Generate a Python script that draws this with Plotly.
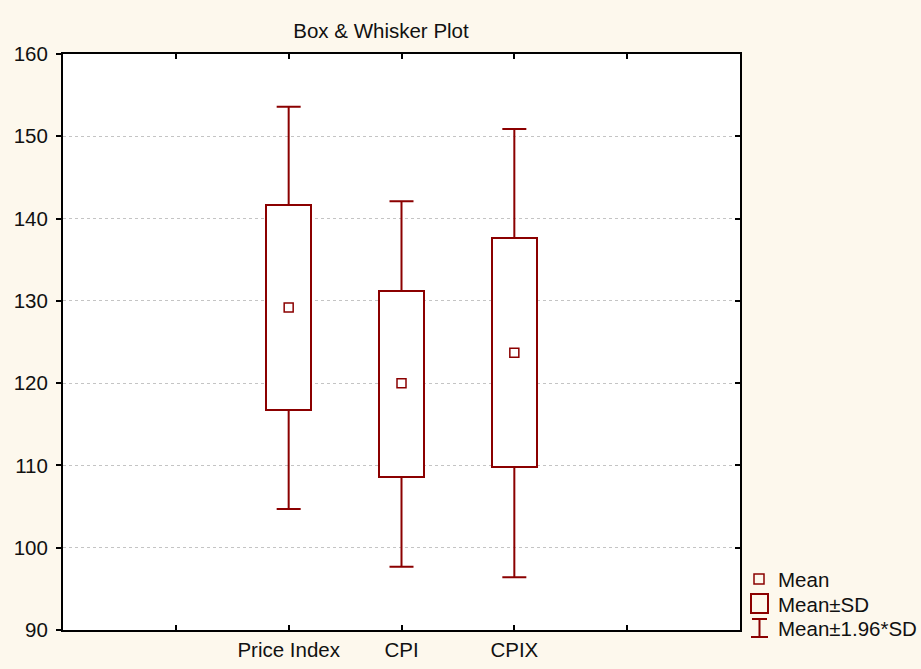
import plotly.graph_objects as go

# ---- data ----
categories = ["Price Index", "CPI", "CPIX"]
mean_vals = [129.2, 120.0, 123.7]
sd_low = [116.7, 108.6, 109.8]      # Mean - SD
sd_high = [141.6, 131.2, 137.6]     # Mean + SD
ci_low = [104.7, 97.7, 96.4]        # Mean - 1.96*SD
ci_high = [153.6, 142.1, 150.9]     # Mean + 1.96*SD
tick_labels = ["", "Price Index", "CPI", "CPIX", ""]
y_ticks = [90, 100, 110, 120, 130, 140, 150, 160]
legend_labels = ["Mean", "Mean\u00b1SD", "Mean\u00b11.96*SD"]

RED = "#8B0000"
BG = "#FDF8ED"
FONT = "Liberation Sans, Arial, sans-serif"
FS = 20.5

W, H = 921, 669
L, R, T, B = 63, 740, 54, 630

tick_pos = list(range(1, len(tick_labels) + 1))
xpos = [tick_labels.index(c) + 1 for c in categories]

fig = go.Figure()
# whiskers: Mean +/- 1.96*SD (bottom subplot layer)
fig.add_trace(go.Scatter(
    x=xpos, y=mean_vals, mode="markers", marker=dict(opacity=0),
    error_y=dict(type="data", symmetric=False,
                 array=[h - m for h, m in zip(ci_high, mean_vals)],
                 arrayminus=[m - l for m, l in zip(mean_vals, ci_low)],
                 color=RED, thickness=2, width=12),
    showlegend=False, hoverinfo="skip",
))
# boxes: Mean +/- SD (overlay subplot, above whiskers)
fig.add_trace(go.Bar(
    x=xpos, base=sd_low, y=[h - l for h, l in zip(sd_high, sd_low)],
    width=0.4, yaxis="y2",
    marker=dict(color="white", line=dict(color=RED, width=2)),
    showlegend=False, hoverinfo="skip",
))
# means
fig.add_trace(go.Scatter(
    x=xpos, y=mean_vals, mode="markers", yaxis="y2",
    marker=dict(symbol="square-open", size=9, color=RED, line=dict(width=1.5, color=RED)),
    showlegend=False,
))

def px(x):
    return (x - L) / (R - L)

def py(y):
    return (B - y) / (B - T)

shapes = []
annotations = []
# legend icons
shapes.append(dict(type="rect", xref="paper", yref="paper",
                   x0=px(754), x1=px(764), y0=py(584), y1=py(574),
                   line=dict(color=RED, width=1.5), fillcolor="rgba(0,0,0,0)"))
shapes.append(dict(type="rect", xref="paper", yref="paper",
                   x0=px(751), x1=px(768), y0=py(613), y1=py(594),
                   line=dict(color=RED, width=2), fillcolor="rgba(0,0,0,0)"))
shapes.append(dict(type="line", xref="paper", yref="paper",
                   x0=px(759.5), x1=px(759.5), y0=py(637), y1=py(619),
                   line=dict(color=RED, width=2)))
shapes.append(dict(type="line", xref="paper", yref="paper",
                   x0=px(752), x1=px(767), y0=py(619), y1=py(619),
                   line=dict(color=RED, width=2)))
shapes.append(dict(type="line", xref="paper", yref="paper",
                   x0=px(751), x1=px(768), y0=py(637), y1=py(637),
                   line=dict(color=RED, width=2)))
for lab, yy in zip(legend_labels, [579, 604, 628]):
    annotations.append(dict(text=lab, xref="paper", yref="paper", x=px(776), y=py(yy),
                            xanchor="left", yanchor="middle", showarrow=False,
                            font=dict(family=FONT, size=FS, color="#111111")))

yrange = [y_ticks[0], y_ticks[-1]]
fig.update_layout(
    width=W, height=H,
    margin=dict(l=L, r=W - R, t=T, b=H - B, pad=0),
    paper_bgcolor=BG, plot_bgcolor="white",
    font=dict(family=FONT, size=FS, color="#111111"),
    title=dict(text="Box & Whisker Plot", x=381 / W, xanchor="center",
               y=1 - 31 / H, yanchor="middle", xref="container", yref="container",
               font=dict(family=FONT, size=FS, color="#111111")),
    xaxis=dict(range=[0, len(tick_labels) + 1], tickvals=tick_pos, ticktext=tick_labels,
               ticks="inside", ticklen=5, tickwidth=1.5, tickcolor="black",
               showline=True, linecolor="black", linewidth=2, mirror="ticks",
               showgrid=False, zeroline=False, ticklabelstandoff=0, automargin=False),
    yaxis=dict(range=yrange, tickvals=y_ticks,
               ticks="outside", ticklen=5, tickwidth=1.5, tickcolor="black",
               showline=True, linecolor="black", linewidth=2, mirror=False,
               showgrid=True, gridcolor="#C4C4C4", gridwidth=1, griddash="dot",
               zeroline=False, ticklabelstandoff=4, automargin=False),
    yaxis2=dict(range=yrange, tickvals=y_ticks, overlaying="y",
                side="right", anchor="x", ticks="inside", ticklen=5, tickwidth=1.5,
                tickcolor="black", showticklabels=False, showline=True,
                linecolor="black", linewidth=2, showgrid=False, zeroline=False,
                automargin=False),
    bargap=0,
    shapes=shapes, annotations=annotations,
    showlegend=False,
)

fig.write_html("out.html")
